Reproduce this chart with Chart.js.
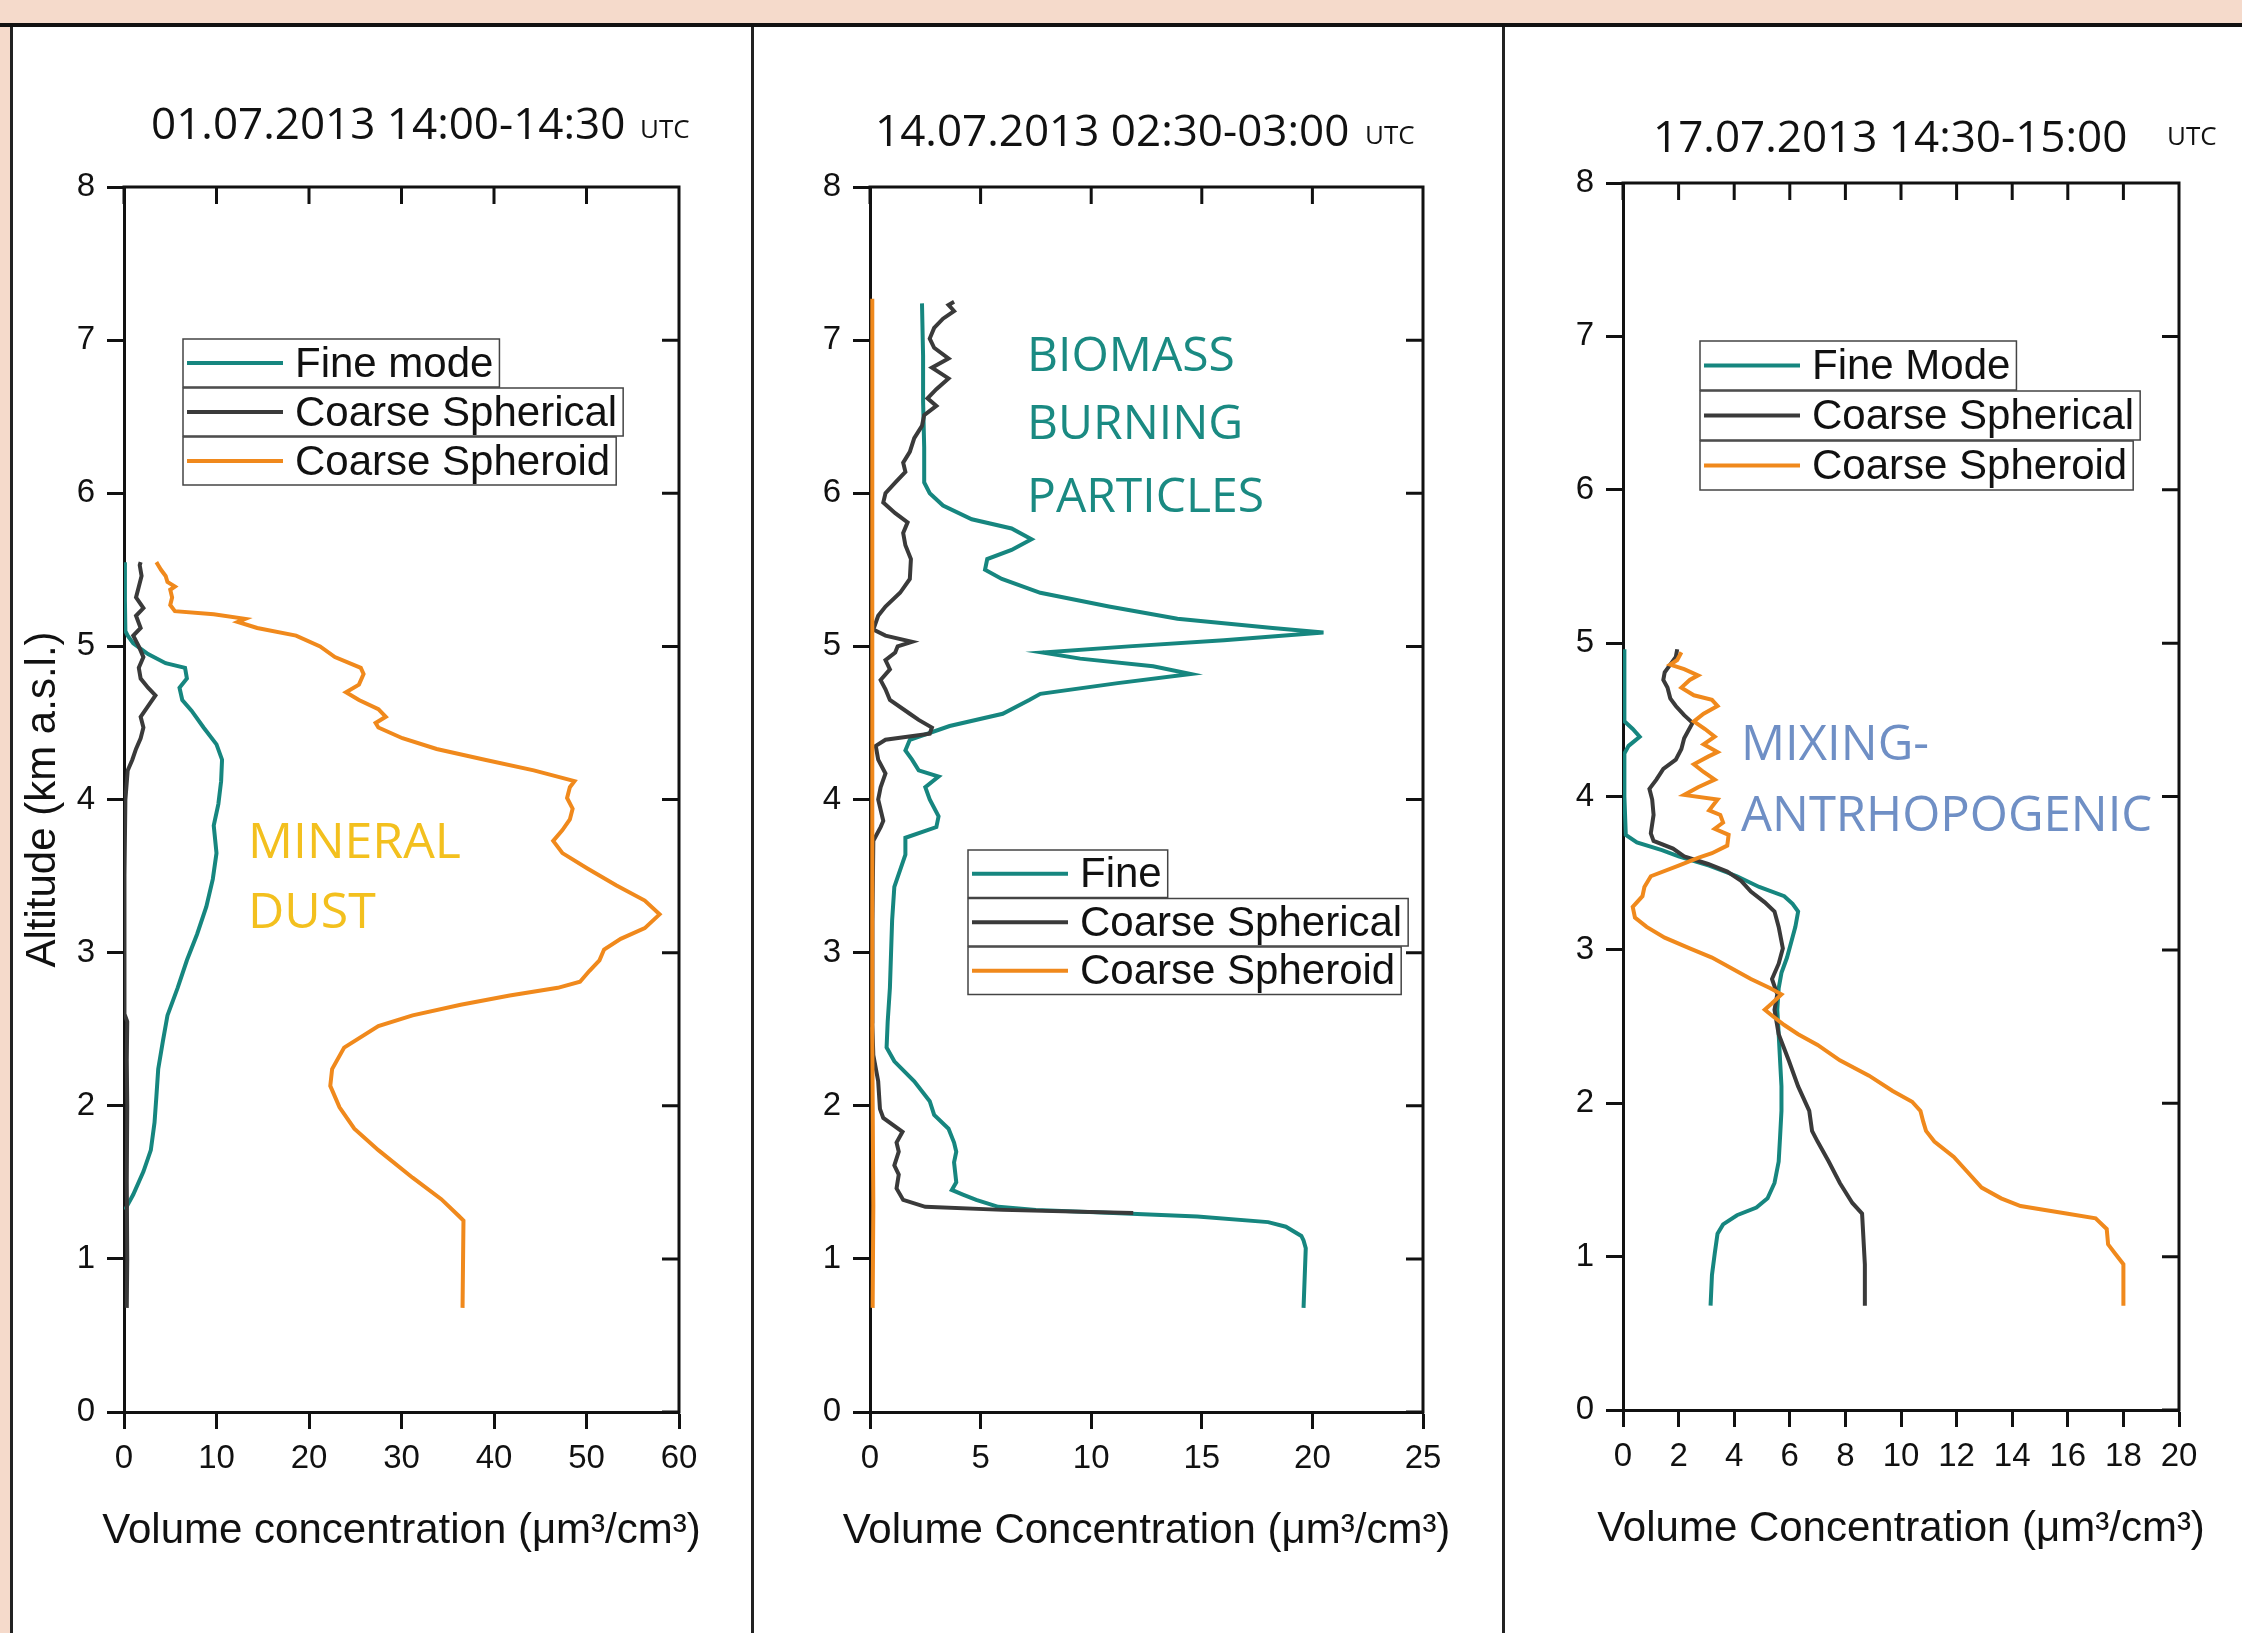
<!DOCTYPE html>
<html>
<head>
<meta charset="utf-8">
<title>Volume concentration profiles</title>
<script src="https://cdn.jsdelivr.net/npm/chart.js@4.4.1/dist/chart.umd.min.js"></script>
<style>
    html, body { margin: 0; padding: 0; }
    body { width: 2242px; height: 1633px; background: #f5dacb; position: relative; overflow: hidden; }
    .topline { position: absolute; left: 0; top: 23px; width: 2242px; height: 4px; background: #111; }
    .panel { position: absolute; top: 27px; height: 1606px; background: #fff; }
    .panel canvas { position: absolute; left: 0; top: 0; }
    .sep { position: absolute; top: 27px; height: 1606px; width: 3px; background: #222; }
</style>
</head>
<body>
<div class="topline"></div>
<div class="sep" style="left:10px"></div>
<div class="panel" style="left:13px;width:738px"><canvas id="c1" width="738" height="1606"></canvas></div>
<div class="sep" style="left:751px"></div>
<div class="panel" style="left:754px;width:748px"><canvas id="c2" width="748" height="1606"></canvas></div>
<div class="sep" style="left:1502px"></div>
<div class="panel" style="left:1505px;width:737px"><canvas id="c3" width="737" height="1606"></canvas></div>

<script>
// altitude axis, shared by all three panels
const ALT_MIN = 0;
const ALT_MAX = 8;

// panel 1: 01.07.2013, mineral dust
const p1XMax = 60, p1XStep = 10;
const p1FineAlt = [1.32, 1.42, 1.57, 1.71, 1.89, 2.06, 2.24, 2.42, 2.59, 2.77, 2.95, 3.12, 3.30, 3.48, 3.65, 3.83, 3.97, 4.12, 4.26, 4.36, 4.47, 4.58, 4.65, 4.73, 4.79, 4.86, 4.89, 4.95, 5.02, 5.07, 5.10, 5.30, 5.55];
const p1FineConc = [0.1, 1.0, 2.1, 2.9, 3.3, 3.5, 3.7, 4.2, 4.7, 5.8, 6.8, 7.9, 8.9, 9.6, 10.0, 9.7, 10.2, 10.5, 10.6, 10.0, 8.6, 7.3, 6.3, 6.0, 6.8, 6.6, 4.5, 2.6, 1.0, 0.4, 0.15, 0.1, 0.1];
const p1SphAlt = [0.68, 1.0, 1.5, 2.0, 2.3, 2.55, 2.6, 3.0, 3.5, 4.0, 4.19, 4.26, 4.33, 4.40, 4.47, 4.54, 4.61, 4.68, 4.73, 4.79, 4.86, 4.93, 5.00, 5.07, 5.12, 5.20, 5.25, 5.32, 5.39, 5.46, 5.53, 5.55];
const p1SphConc = [0.3, 0.35, 0.3, 0.35, 0.3, 0.35, 0.05, 0.05, 0.05, 0.15, 0.4, 0.9, 1.3, 1.8, 2.1, 1.8, 2.6, 3.4, 2.6, 1.8, 1.6, 2.1, 1.6, 1.0, 1.8, 1.3, 2.1, 1.3, 1.6, 1.9, 1.7, 1.8];
const p1SpdAlt = [0.68, 1.25, 1.28, 1.39, 1.53, 1.71, 1.85, 1.99, 2.13, 2.24, 2.38, 2.52, 2.59, 2.66, 2.72, 2.77, 2.81, 2.88, 2.95, 3.02, 3.09, 3.16, 3.25, 3.34, 3.44, 3.55, 3.65, 3.73, 3.80, 3.87, 3.94, 4.01, 4.08, 4.12, 4.19, 4.26, 4.33, 4.40, 4.47, 4.50, 4.54, 4.59, 4.65, 4.70, 4.75, 4.82, 4.86, 4.93, 5.00, 5.07, 5.12, 5.16, 5.18, 5.21, 5.23, 5.27, 5.32, 5.37, 5.39, 5.42, 5.46, 5.50, 5.53, 5.55];
const p1SpdConc = [36.6, 36.7, 36.2, 34.3, 31.2, 27.5, 24.9, 23.3, 22.3, 22.5, 23.8, 27.5, 31.2, 36.4, 41.7, 46.9, 49.3, 50.3, 51.4, 51.9, 53.7, 56.3, 57.9, 56.3, 53.2, 50.1, 47.4, 46.4, 47.4, 48.2, 48.5, 47.9, 48.2, 48.7, 44.3, 39.0, 33.8, 30.1, 27.5, 27.2, 28.3, 27.5, 25.4, 24.0, 25.4, 25.9, 25.6, 22.8, 21.2, 18.6, 14.4, 12.3, 13.1, 9.7, 5.5, 5.0, 5.2, 5.0, 5.5, 4.7, 4.5, 4.0, 3.7, 3.5];

// panel 2: 14.07.2013, biomass burning
const p2XMax = 25, p2XStep = 5;
const p2FineAlt = [0.68, 1.07, 1.12, 1.15, 1.21, 1.24, 1.276, 1.30, 1.32, 1.34, 1.385, 1.42, 1.45, 1.50, 1.63, 1.70, 1.76, 1.85, 1.94, 2.03, 2.16, 2.29, 2.38, 2.55, 2.77, 2.99, 3.21, 3.43, 3.64, 3.75, 3.82, 3.89, 4.0, 4.08, 4.15, 4.19, 4.26, 4.32, 4.39, 4.48, 4.56, 4.65, 4.69, 4.76, 4.82, 4.87, 4.92, 4.96, 5.00, 5.04, 5.09, 5.12, 5.18, 5.26, 5.35, 5.44, 5.50, 5.57, 5.63, 5.70, 5.77, 5.83, 5.92, 6.00, 6.07, 6.3, 6.6, 6.9, 7.24];
const p2FineConc = [19.6, 19.7, 19.6, 19.5, 18.8, 18.0, 14.8, 11.0, 7.5, 5.8, 4.8, 4.2, 3.7, 3.9, 3.8, 3.9, 3.8, 3.55, 2.9, 2.7, 2.0, 1.1, 0.75, 0.8, 0.9, 0.95, 1.0, 1.1, 1.6, 1.6, 3.0, 3.1, 2.7, 2.5, 3.1, 2.2, 1.9, 1.6, 1.8, 3.6, 6.0, 7.2, 7.7, 11.2, 14.5, 12.8, 9.5, 7.8, 11.7, 16.0, 20.5, 18.2, 13.9, 10.8, 7.7, 5.96, 5.2, 5.3, 6.4, 7.3, 6.4, 4.6, 3.3, 2.7, 2.45, 2.45, 2.4, 2.4, 2.35];
const p2SphAlt = [1.30, 1.32, 1.34, 1.385, 1.46, 1.55, 1.61, 1.70, 1.76, 1.83, 1.92, 1.98, 2.16, 2.33, 2.55, 2.77, 3.2, 3.73, 3.82, 3.86, 4.0, 4.08, 4.17, 4.26, 4.35, 4.39, 4.43, 4.47, 4.52, 4.56, 4.65, 4.72, 4.78, 4.85, 4.91, 4.96, 5.0, 5.03, 5.07, 5.11, 5.2, 5.26, 5.35, 5.44, 5.57, 5.66, 5.74, 5.81, 5.87, 5.94, 6.0, 6.07, 6.14, 6.2, 6.27, 6.36, 6.44, 6.51, 6.57, 6.62, 6.68, 6.75, 6.82, 6.88, 6.95, 7.01, 7.08, 7.14, 7.19, 7.23, 7.25];
const p2SphConc = [11.9, 6.0, 2.5, 1.5, 1.2, 1.3, 1.1, 1.3, 1.2, 1.47, 0.6, 0.45, 0.37, 0.15, 0.1, 0.1, 0.12, 0.15, 0.48, 0.6, 0.37, 0.48, 0.7, 0.37, 0.26, 0.7, 2.7, 2.8, 2.2, 1.8, 0.9, 0.7, 0.48, 0.9, 0.7, 1.14, 1.25, 1.9, 0.7, 0.15, 0.37, 0.7, 1.36, 1.8, 1.85, 1.6, 1.5, 1.7, 1.14, 0.6, 0.7, 1.14, 1.6, 1.5, 1.8, 2.0, 2.35, 2.45, 3.0, 2.6, 3.0, 3.55, 2.8, 3.55, 2.9, 2.7, 2.9, 3.3, 3.8, 3.55, 3.8];
const p2SpdAlt = [0.68, 1.35, 2.5, 3.5, 4.5, 5.5, 6.5, 7.27];
const p2SpdConc = [0.12, 0.15, 0.1, 0.12, 0.1, 0.1, 0.1, 0.1];

// panel 3: 17.07.2013, mixing / anthropogenic
const p3XMax = 20, p3XStep = 2;
const p3FineAlt = [0.68, 0.88, 1.02, 1.15, 1.21, 1.27, 1.32, 1.38, 1.48, 1.62, 1.78, 1.95, 2.11, 2.28, 2.45, 2.61, 2.75, 2.85, 2.95, 3.05, 3.15, 3.25, 3.30, 3.35, 3.41, 3.48, 3.55, 3.61, 3.65, 3.70, 3.75, 4.0, 4.28, 4.33, 4.39, 4.44, 4.49, 4.7, 4.96];
const p3FineConc = [3.15, 3.2, 3.3, 3.4, 3.6, 4.1, 4.8, 5.2, 5.45, 5.6, 5.65, 5.7, 5.7, 5.65, 5.6, 5.55, 5.6, 5.7, 5.9, 6.05, 6.2, 6.3, 6.1, 5.8, 4.9, 4.1, 3.1, 2.0, 1.4, 0.5, 0.1, 0.05, 0.05, 0.2, 0.6, 0.35, 0.05, 0.05, 0.05];
const p3SphAlt = [0.68, 0.95, 1.28, 1.35, 1.48, 1.62, 1.75, 1.82, 1.95, 2.11, 2.28, 2.45, 2.61, 2.71, 2.81, 2.91, 3.01, 3.15, 3.25, 3.31, 3.38, 3.45, 3.51, 3.56, 3.61, 3.66, 3.71, 3.76, 3.88, 3.98, 4.05, 4.11, 4.18, 4.24, 4.31, 4.38, 4.48, 4.53, 4.59, 4.64, 4.71, 4.76, 4.81, 4.86, 4.91, 4.96];
const p3SphConc = [8.7, 8.7, 8.6, 8.25, 7.8, 7.4, 7.0, 6.8, 6.7, 6.3, 5.96, 5.6, 5.45, 5.55, 5.36, 5.6, 5.75, 5.6, 5.45, 5.1, 4.6, 4.25, 3.75, 3.06, 2.2, 1.8, 1.1, 1.0, 1.1, 1.05, 0.95, 1.2, 1.45, 1.9, 2.1, 2.2, 2.5, 2.2, 1.9, 1.7, 1.6, 1.45, 1.5, 1.7, 1.9, 1.95];
const p3SpdAlt = [0.68, 0.95, 1.02, 1.08, 1.18, 1.25, 1.28, 1.33, 1.38, 1.45, 1.55, 1.65, 1.75, 1.82, 1.88, 1.95, 2.01, 2.08, 2.18, 2.28, 2.38, 2.45, 2.51, 2.58, 2.61, 2.65, 2.71, 2.75, 2.81, 2.88, 2.95, 3.01, 3.08, 3.15, 3.21, 3.28, 3.35, 3.41, 3.48, 3.55, 3.60, 3.63, 3.68, 3.75, 3.79, 3.83, 3.88, 3.91, 3.98, 4.01, 4.06, 4.11, 4.16, 4.21, 4.26, 4.29, 4.34, 4.39, 4.44, 4.49, 4.54, 4.59, 4.63, 4.66, 4.71, 4.76, 4.79, 4.83, 4.86, 4.89, 4.94];
const p3SpdConc = [18.0, 18.0, 17.7, 17.45, 17.4, 17.0, 16.0, 14.3, 13.6, 12.9, 12.4, 11.9, 11.2, 10.9, 10.8, 10.7, 10.4, 9.7, 8.85, 7.8, 7.0, 6.3, 5.8, 5.3, 5.1, 5.35, 5.7, 5.3, 4.6, 3.9, 3.2, 2.4, 1.5, 0.85, 0.43, 0.35, 0.7, 0.77, 1.0, 2.0, 2.7, 3.2, 3.75, 3.8, 3.3, 3.6, 3.5, 3.1, 3.4, 2.2, 2.7, 3.3, 2.9, 2.55, 3.06, 3.4, 2.9, 3.3, 2.95, 2.55, 2.9, 3.4, 3.2, 2.55, 2.1, 2.4, 2.7, 2.2, 1.7, 1.95, 2.1];

const TEAL = '#16867f';
const DARK = '#3a3a3a';
const ORANGE = '#f0891c';
const INK = '#111';
const TICK = 17;
const Y_W = 106;   // width of the left axis box
const X_H = 143;   // height of the bottom axis box
const ARIAL = '"Liberation Sans", Arial, sans-serif';
const CALI = '"Open Sans", sans-serif';

function pts(alt, conc) {
    return alt.map((a, i) => ({ x: conc[i], y: a }));
}

function series(label, alt, conc, color, order) {
    return {
        label,
        data: pts(alt, conc),
        borderColor: color,
        backgroundColor: color,
        borderWidth: 4,
        pointRadius: 0,
        showLine: true,
        tension: 0,
        order
    };
}

// frame on top/right with inward ticks, titles, notes and the boxed legend
const decor = {
    id: 'decor',
    afterDraw(chart, args, opts) {
        const { ctx, chartArea: a, scales: { x, y } } = chart;
        ctx.save();

        ctx.strokeStyle = INK;
        ctx.lineWidth = 3;
        ctx.beginPath();
        ctx.moveTo(a.left - 1.5, a.top);
        ctx.lineTo(a.right, a.top);
        ctx.lineTo(a.right, a.bottom + 1.5);
        x.ticks.forEach(t => {
            const px = x.getPixelForValue(t.value);
            ctx.moveTo(px, a.top);
            ctx.lineTo(px, a.top + TICK);
        });
        y.ticks.forEach(t => {
            const py = y.getPixelForValue(t.value);
            ctx.moveTo(a.right, py);
            ctx.lineTo(a.right - TICK, py);
        });
        ctx.stroke();

        // x axis title, drawn here so it is not squeezed to the plot width
        ctx.fillStyle = INK;
        ctx.textAlign = 'center';
        ctx.textBaseline = 'middle';
        ctx.font = '42px ' + ARIAL;
        ctx.fillText(opts.xTitle, (a.left + a.right) / 2, x.bottom - 24);

        // title
        ctx.textAlign = 'left';
        ctx.textBaseline = 'alphabetic';
        ctx.font = '44px ' + CALI;
        ctx.fillText(opts.title, opts.titleX, opts.titleY);
        ctx.font = '26px ' + CALI;
        ctx.fillText('UTC', opts.utcX, opts.utcY);

        // coloured note inside the plot
        const n = opts.note;
        ctx.fillStyle = n.color;
        ctx.font = n.size + 'px ' + CALI;
        n.lines.forEach((s, i) => ctx.fillText(s, n.x, n.y[i]));

        // legend, one box per entry
        const lg = opts.legend;
        ctx.font = '42px ' + ARIAL;
        chart.data.datasets.forEach((ds, i) => {
            const top = lg.top + i * lg.rowH;
            const h = lg.rowH - 1;
            const w = 112 + ctx.measureText(ds.label).width + 6;
            ctx.fillStyle = '#fff';
            ctx.fillRect(lg.left, top, w, h);
            ctx.strokeStyle = '#444';
            ctx.lineWidth = 1.5;
            ctx.strokeRect(lg.left, top, w, h);
            ctx.strokeStyle = ds.borderColor;
            ctx.lineWidth = 4;
            ctx.beginPath();
            ctx.moveTo(lg.left + 4, top + h / 2);
            ctx.lineTo(lg.left + 100, top + h / 2);
            ctx.stroke();
            ctx.fillStyle = INK;
            ctx.textBaseline = 'middle';
            ctx.fillText(ds.label, lg.left + 112, top + h / 2 + 2);
            ctx.textBaseline = 'alphabetic';
        });

        ctx.restore();
    }
};

function buildPanel(id, datasets, xMax, xStep, xTitle, yTitle, padding, decorOpts) {
    const tickFont = { family: ARIAL, size: 33 };
    const grid = { display: true, drawOnChartArea: false, drawTicks: true, tickLength: TICK, tickWidth: 3, tickColor: INK };
    const border = { display: true, color: INK, width: 3 };

    return new Chart(document.getElementById(id), {
        type: 'scatter',
        data: { datasets },
        options: {
            responsive: false,
            animation: false,
            layout: { padding },
            plugins: {
                legend: { display: false },
                tooltip: { enabled: false },
                decor: Object.assign({ xTitle }, decorOpts)
            },
            scales: {
                x: {
                    type: 'linear',
                    position: 'bottom',
                    min: 0,
                    max: xMax,
                    ticks: { stepSize: xStep, color: INK, font: tickFont, padding: 10, autoSkip: false, maxRotation: 0 },
                    grid,
                    border,
                    afterFit: s => { s.height = X_H; }
                },
                y: {
                    type: 'linear',
                    position: 'left',
                    min: ALT_MIN,
                    max: ALT_MAX,
                    ticks: { stepSize: 1, color: INK, font: tickFont, padding: 12 },
                    grid,
                    border,
                    title: { display: !!yTitle, text: yTitle || '', color: INK, font: { family: ARIAL, size: 42 }, padding: 0 },
                    afterFit: s => { s.width = Y_W; }
                }
            }
        },
        plugins: [decor]
    });
}

buildPanel('c1', [
    series('Fine mode', p1FineAlt, p1FineConc, TEAL, 3),
    series('Coarse Spherical', p1SphAlt, p1SphConc, DARK, 2),
    series('Coarse Spheroid', p1SpdAlt, p1SpdConc, ORANGE, 1)
], p1XMax, p1XStep, 'Volume concentration (\u03bcm\u00b3/cm\u00b3)', 'Altitude (km a.s.l.)',
{ left: 5, top: 160, right: 72, bottom: 78 },
{
    title: '01.07.2013 14:00-14:30', titleX: 138, titleY: 112, utcX: 627, utcY: 111,
    note: { lines: ['MINERAL', 'DUST'], x: 235, y: [831, 901], color: '#f3c01e', size: 50 },
    legend: { left: 170, top: 312, rowH: 49 }
});

buildPanel('c2', [
    series('Fine', p2FineAlt, p2FineConc, TEAL, 3),
    series('Coarse Spherical', p2SphAlt, p2SphConc, DARK, 2),
    series('Coarse Spheroid', p2SpdAlt, p2SpdConc, ORANGE, 1)
], p2XMax, p2XStep, 'Volume Concentration (\u03bcm\u00b3/cm\u00b3)', null,
{ left: 10, top: 160, right: 79, bottom: 78 },
{
    title: '14.07.2013 02:30-03:00', titleX: 121, titleY: 119, utcX: 611, utcY: 117,
    note: { lines: ['BIOMASS', 'BURNING', 'PARTICLES'], x: 273, y: [344, 412, 485], color: '#1a8a82', size: 48 },
    legend: { left: 214, top: 823, rowH: 48.5 }
});

buildPanel('c3', [
    series('Fine Mode', p3FineAlt, p3FineConc, TEAL, 3),
    series('Coarse Spherical', p3SphAlt, p3SphConc, DARK, 2),
    series('Coarse Spheroid', p3SpdAlt, p3SpdConc, ORANGE, 1)
], p3XMax, p3XStep, 'Volume Concentration (\u03bcm\u00b3/cm\u00b3)', null,
{ left: 12, top: 156, right: 63, bottom: 80 },
{
    title: '17.07.2013 14:30-15:00', titleX: 148, titleY: 125, utcX: 662, utcY: 118,
    note: { lines: ['MIXING-', 'ANTRHOPOGENIC'], x: 236, y: [733, 804], color: '#6f8fc5', size: 49 },
    legend: { left: 195, top: 314, rowH: 50 }
});
</script>
</body>
</html>
